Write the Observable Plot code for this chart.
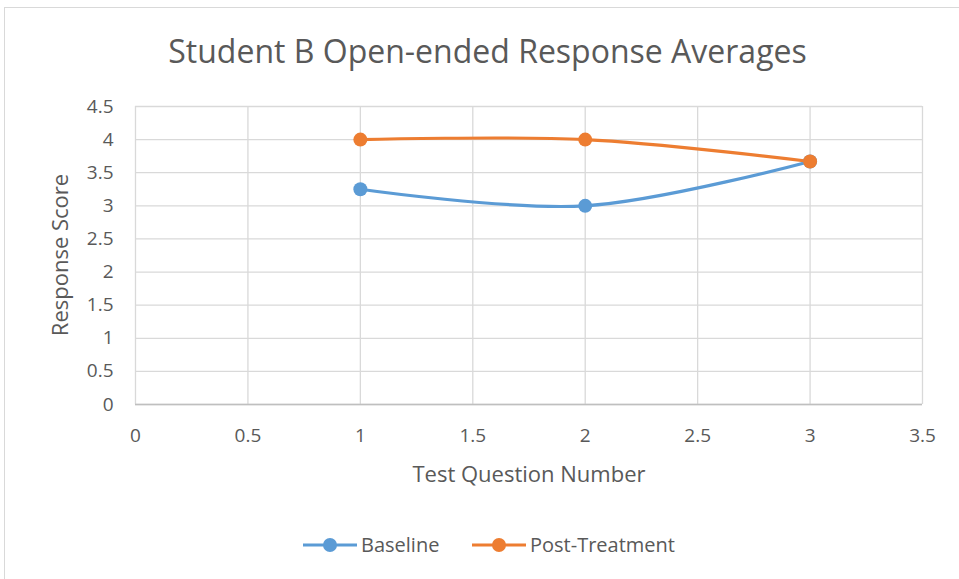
<!DOCTYPE html>
<html>
<head>
<meta charset="utf-8">
<script src="https://cdn.jsdelivr.net/npm/d3@7"></script>
<script src="https://cdn.jsdelivr.net/npm/@observablehq/plot@0.6"></script>
<style>
  html, body { margin: 0; padding: 0; background: #fff; }
  body { width: 959px; height: 579px; position: relative; overflow: hidden; font-family: "Open Sans", sans-serif; color: #595959; }
  #frame { position: absolute; left: 4px; top: 7px; width: 965px; height: 580px; border: 1px solid #d9d9d9; box-sizing: border-box; }
  #chart { position: absolute; left: 0; top: 0; }
  #title { position: absolute; left: 0; width: 975px; top: 29px; text-align: center; font-size: 32px; color: #595959; }
  #legend { position: absolute; top: 531px; left: 0; width: 959px; font-size: 20px; color: #595959; }
  .item { position: absolute; display: flex; align-items: center; }
  .item svg { margin-right: 3px; }
</style>
</head>
<body>
<div id="frame"></div>
<div id="chart"></div>
<div id="title">Student B Open-ended Response Averages</div>
<div id="legend"></div>
<script>
const questions = [1, 2, 3];
const baseline = [3.25, 3.0, 3.67];
const postTreatment = [4.0, 4.0, 3.67];
const seriesNames = ["Baseline", "Post-Treatment"];
const seriesColors = ["#5b9bd5", "#ed7d31"];
const xTicks = [0, 0.5, 1, 1.5, 2, 2.5, 3, 3.5];
const yTicks = [0, 0.5, 1, 1.5, 2, 2.5, 3, 3.5, 4, 4.5];

const data = [
  ...questions.map((q, i) => ({x: q, y: baseline[i], s: seriesNames[0]})),
  ...questions.map((q, i) => ({x: q, y: postTreatment[i], s: seriesNames[1]}))
];

const fmt = d => String(d);

const chart = Plot.plot({
  width: 959,
  height: 579,
  marginLeft: 135,
  marginRight: 37,
  marginTop: 106,
  marginBottom: 175,
  style: {fontFamily: "Open Sans, sans-serif", fontSize: "19px", color: "#595959", background: "transparent"},
  x: {domain: [0, 3.5], label: null},
  y: {domain: [0, 4.5], label: null},
  color: {domain: seriesNames, range: seriesColors},
  marks: [
    Plot.gridX(xTicks, {stroke: "#d9d9d9", strokeOpacity: 1, strokeWidth: 1.3}),
    Plot.gridY(yTicks, {stroke: "#d9d9d9", strokeOpacity: 1, strokeWidth: 1.3}),
    Plot.ruleY([0], {stroke: "#bfbfbf", strokeWidth: 1.5}),
    Plot.axisX(xTicks, {tickSize: 0, tickPadding: 24, tickFormat: fmt, fill: "#595959", fontSize: 19, label: null}),
    Plot.axisY(yTicks, {tickSize: 0, tickPadding: 22, tickFormat: fmt, fill: "#595959", fontSize: 19, label: null}),
    Plot.text(["Test Question Number"], {x: () => 1.75, y: () => 0, dy: 70, fill: "#595959", fontSize: 22}),
    Plot.line(data, {x: "x", y: "y", z: "s", stroke: "s", strokeWidth: 3.2, curve: "catmull-rom"}),
    Plot.dot(data, {x: "x", y: "y", fill: "s", r: 7, stroke: null})
  ]
});
document.getElementById("chart").appendChild(chart);

// y-axis label
const svg = d3.select(chart);
svg.append("text")
  .attr("transform", "translate(68,255) rotate(-90)")
  .attr("text-anchor", "middle")
  .attr("fill", "#595959")
  .attr("font-size", 22)
  .attr("font-family", "Open Sans, sans-serif")
  .text("Response Score");

// legend
const legend = document.getElementById("legend");
const lefts = [302, 471];
seriesNames.forEach((name, i) => {
  const item = document.createElement("div");
  item.className = "item";
  item.style.left = lefts[i] + "px";
  item.innerHTML = `<svg width="56" height="26"><line x1="1" x2="55" y1="13" y2="13" stroke="${seriesColors[i]}" stroke-width="3.2"/><circle cx="28" cy="13" r="7" fill="${seriesColors[i]}"/></svg><span>${name}</span>`;
  legend.appendChild(item);
});
</script>
</body>
</html>
